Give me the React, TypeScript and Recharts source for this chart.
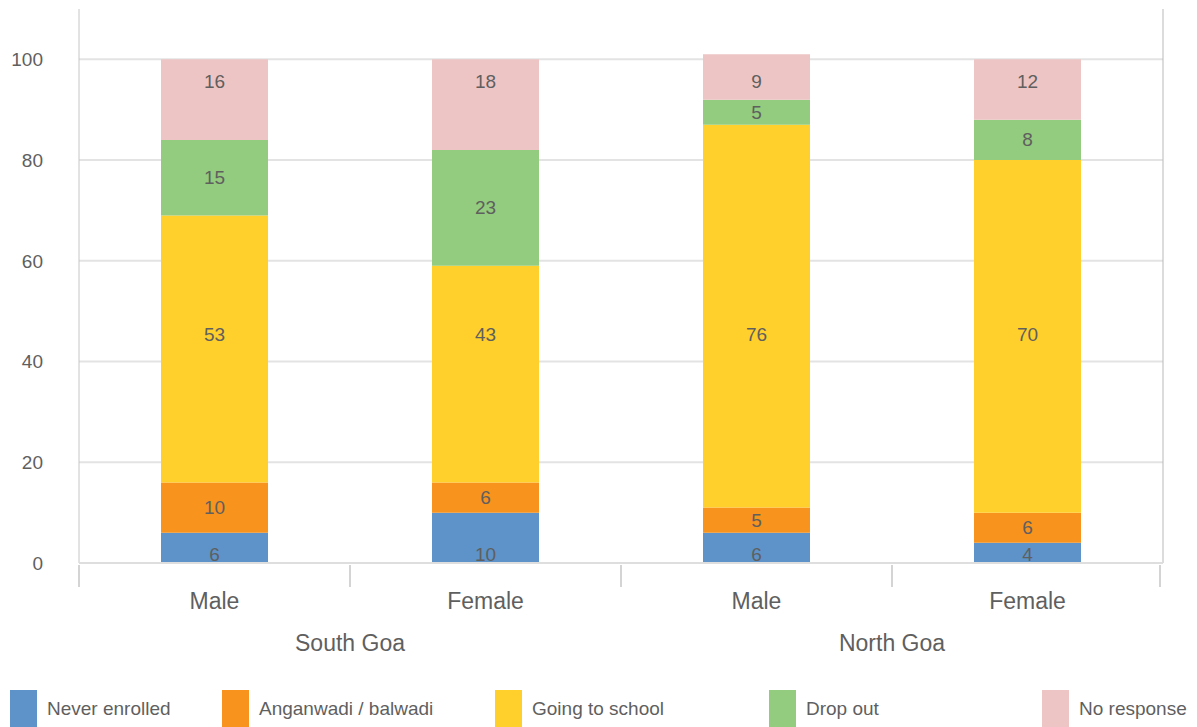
import React from "react";
import {
  BarChart, Bar, XAxis, YAxis, CartesianGrid, LabelList
} from "recharts";

// categories (two-level x axis)
const genders = ["Male", "Female", "Male", "Female"];
const districts = ["South Goa", "South Goa", "North Goa", "North Goa"];

// series values, percent
const neverEnrolled = [6, 10, 6, 4];
const anganwadi = [10, 6, 5, 6];
const goingToSchool = [53, 43, 76, 70];
const dropOut = [15, 23, 5, 8];
const noResponse = [16, 18, 9, 12];

const yTicks = [0, 20, 40, 60, 80, 100];

// labelAt: the original puts some labels at a fixed height instead of the segment centre
const series = [
  { key: "never", name: "Never enrolled", values: neverEnrolled, color: "#5d93c8", labelAt: 1.6 },
  { key: "angan", name: "Anganwadi / balwadi", values: anganwadi, color: "#f8931d", labelAt: null },
  { key: "school", name: "Going to school", values: goingToSchool, color: "#ffd02b", labelAt: 45.3 },
  { key: "drop", name: "Drop out", values: dropOut, color: "#93cc7e", labelAt: null },
  { key: "none", name: "No response", values: noResponse, color: "#eec5c5", labelAt: 95.6 },
];

const data = genders.map((g, i) => {
  const row: any = { gender: g, group: districts[i] };
  series.forEach(s => { row[s.key] = s.values[i]; });
  return row;
});

const FONT = "'Liberation Sans', Arial, sans-serif";
const TEXT = "#5f5f5f";
const AXIS = "#c6c6c6";
const GENDER_MARGIN = 30;

// value label: centred, or pinned to labelAt using the segment's own scale
const makeLabel = (si: number) => (props: any) => {
  const { x, y, width, height, index, value } = props;
  const s = series[si];
  let cy = y + height / 2;
  if (s.labelAt != null && value) {
    let base = 0;
    for (let k = 0; k < si; k++) base += series[k].values[index];
    const ppu = height / value;
    cy = y + height - (s.labelAt - base) * ppu;
  }
  return (
    <text x={x + width / 2} y={cy} textAnchor="middle" dominantBaseline="central"
      fill={TEXT} fontSize={19} fontFamily={FONT}>
      {value}
    </text>
  );
};

// gender tick + separator marks between categories
const GenderTick = (props: any) => {
  const { x, y, payload, index, visibleTicksCount } = props;
  const half = payload.offset || 0;
  const top = y - GENDER_MARGIN + 2;
  return (
    <g>
      <line x1={x - half} x2={x - half} y1={top} y2={top + 22} stroke={AXIS} strokeWidth={1.5} />
      {index === visibleTicksCount - 1 && (
        <line x1={x + half - 3} x2={x + half - 3} y1={top} y2={top + 22} stroke={AXIS} strokeWidth={1.5} />
      )}
      <text x={x} y={y} dy="0.71em" textAnchor="middle" fill={TEXT} fontSize={23} fontFamily={FONT}>
        {payload.value}
      </text>
    </g>
  );
};

const legendLeft = [10, 222, 495, 769, 1042];

export default function App() {
  return (
    <div style={{ position: "absolute", left: 0, top: 0, width: 1197, height: 727, background: "#fff", fontFamily: FONT }}>
      <BarChart
        width={1197}
        height={727}
        data={data}
        margin={{ top: 9, right: 33, left: 0, bottom: 64 }}
      >
        <CartesianGrid
          yAxisId="left"
          xAxisId="gender"
          vertical={false}
          stroke="#e3e3e3"
          strokeWidth={2}
          horizontalValues={yTicks}
        />
        <YAxis
          yAxisId="left"
          domain={[0, 110]}
          ticks={yTicks}
          width={79}
          tickSize={0}
          tickMargin={36}
          axisLine={{ stroke: AXIS }}
          tickLine={false}
          tick={{ fill: TEXT, fontSize: 19, fontFamily: FONT }}
        />
        <YAxis
          yAxisId="right"
          orientation="right"
          width={1}
          tick={false}
          tickLine={false}
          axisLine={{ stroke: "#b9b9b9" }}
        />
        <XAxis
          xAxisId="gender"
          dataKey="gender"
          height={62}
          tickSize={0}
          tickMargin={GENDER_MARGIN}
          axisLine={{ stroke: "#dedede", strokeWidth: 2 }}
          tickLine={false}
          tick={<GenderTick />}
        />
        <XAxis
          xAxisId="group"
          dataKey="group"
          allowDuplicatedCategory={false}
          height={38}
          tickSize={0}
          tickMargin={10}
          axisLine={false}
          tickLine={false}
          tick={{ fill: TEXT, fontSize: 23, fontFamily: FONT }}
        />
        {series.map((s, si) => (
          <Bar
            key={s.key}
            dataKey={s.key}
            name={s.name}
            stackId="a"
            xAxisId="gender"
            yAxisId="left"
            fill={s.color}
            barSize={107}
            isAnimationActive={false}
          >
            <LabelList dataKey={s.key} content={makeLabel(si)} />
          </Bar>
        ))}
      </BarChart>

      {/* legend */}
      {series.map((s, i) => (
        <div key={s.key} style={{ position: "absolute", left: legendLeft[i], top: 690, display: "flex", alignItems: "center", height: 37 }}>
          <div style={{ width: 27, height: 37, background: s.color }} />
          <span style={{ marginLeft: 10, fontSize: 19, color: TEXT, whiteSpace: "nowrap" }}>{s.name}</span>
        </div>
      ))}
    </div>
  );
}
